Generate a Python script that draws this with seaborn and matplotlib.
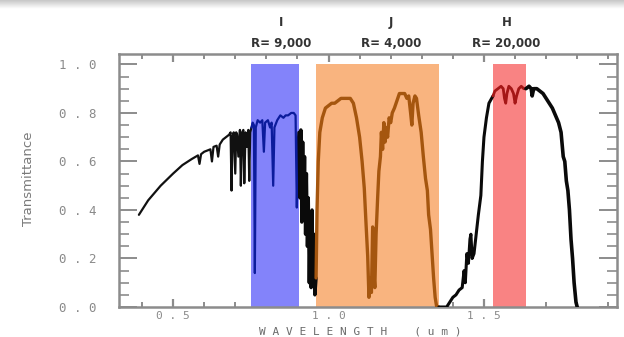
import numpy as np
import pandas as pd
import matplotlib
matplotlib.use("Agg")
import matplotlib.pyplot as plt
from matplotlib.ticker import MultipleLocator, FixedLocator, FixedFormatter
import seaborn as sns

# ---------------- data ----------------
# black: visible continuum before the I band
wl_vis = [0.39, 0.42, 0.46, 0.50, 0.53, 0.56, 0.58, 0.585, 0.59, 0.60, 0.62, 0.625, 0.63,
          0.64, 0.645, 0.65, 0.66, 0.67, 0.68, 0.685, 0.688, 0.691, 0.695, 0.70, 0.703,
          0.706, 0.71, 0.715, 0.718, 0.722, 0.726, 0.729, 0.733, 0.737, 0.742, 0.745, 0.748, 0.752]
tr_vis = [0.38, 0.44, 0.50, 0.55, 0.585, 0.61, 0.625, 0.59, 0.63, 0.64, 0.65, 0.60, 0.66,
          0.665, 0.62, 0.67, 0.69, 0.70, 0.71, 0.72, 0.48, 0.70, 0.72, 0.55, 0.72,
          0.71, 0.62, 0.73, 0.50, 0.72, 0.73, 0.51, 0.72, 0.66, 0.73, 0.52, 0.72, 0.74]

# I band (blue)
wl_I = [0.752, 0.756, 0.760, 0.763, 0.766, 0.772, 0.780, 0.787, 0.792, 0.796, 0.805, 0.812,
        0.817, 0.822, 0.826, 0.835, 0.845, 0.855, 0.862, 0.870, 0.880, 0.888, 0.894, 0.898,
        0.902, 0.905]
tr_I = [0.74, 0.76, 0.75, 0.14, 0.74, 0.77, 0.76, 0.77, 0.64, 0.76, 0.77, 0.74,
        0.76, 0.50, 0.74, 0.77, 0.79, 0.78, 0.79, 0.79, 0.80, 0.80, 0.79, 0.41,
        0.70, 0.72]

# black: gap between I and J
wl_gap1 = [0.905, 0.908, 0.911, 0.914, 0.917, 0.920, 0.923, 0.926, 0.929, 0.932, 0.935,
           0.938, 0.941, 0.944, 0.947, 0.950, 0.953, 0.956, 0.960]
tr_gap1 = [0.72, 0.45, 0.73, 0.35, 0.68, 0.40, 0.62, 0.30, 0.55, 0.25, 0.45,
           0.10, 0.35, 0.08, 0.40, 0.15, 0.30, 0.05, 0.12]

# J band (brown)
wl_J = [0.960, 0.963, 0.967, 0.972, 0.980, 0.990, 1.000, 1.010, 1.020, 1.030, 1.040, 1.050,
        1.060, 1.070, 1.080, 1.090, 1.100, 1.108, 1.115, 1.120, 1.126, 1.130, 1.134, 1.138,
        1.142, 1.145, 1.149, 1.153, 1.158, 1.162, 1.167, 1.170, 1.174, 1.178, 1.182, 1.186,
        1.190, 1.195, 1.200, 1.205, 1.212, 1.220, 1.228, 1.236, 1.245, 1.252, 1.258, 1.264,
        1.268, 1.272, 1.278, 1.283, 1.290, 1.298, 1.305, 1.312, 1.318, 1.322, 1.328, 1.333,
        1.338, 1.343, 1.348, 1.355]
tr_J = [0.12, 0.40, 0.60, 0.72, 0.78, 0.82, 0.83, 0.84, 0.84, 0.85, 0.86, 0.86,
        0.86, 0.86, 0.84, 0.78, 0.70, 0.60, 0.49, 0.36, 0.21, 0.04, 0.12, 0.06,
        0.33, 0.15, 0.08, 0.30, 0.45, 0.56, 0.62, 0.72, 0.65, 0.76, 0.68, 0.74,
        0.70, 0.78, 0.76, 0.80, 0.82, 0.85, 0.88, 0.88, 0.88, 0.86, 0.87, 0.80,
        0.75, 0.84, 0.87, 0.86, 0.79, 0.72, 0.62, 0.53, 0.48, 0.38, 0.32, 0.22,
        0.12, 0.04, 0.00, 0.00]

# black: gap between J and H
wl_gap2 = [1.355, 1.380, 1.390, 1.400, 1.410, 1.420, 1.430, 1.436, 1.440, 1.445, 1.450,
           1.455, 1.458, 1.462, 1.468, 1.475, 1.482, 1.490, 1.495, 1.500, 1.508, 1.516, 1.529]
tr_gap2 = [0.00, 0.00, 0.02, 0.04, 0.05, 0.07, 0.08, 0.15, 0.10, 0.22, 0.18,
           0.28, 0.30, 0.20, 0.22, 0.30, 0.38, 0.46, 0.60, 0.70, 0.78, 0.84, 0.87]

# H band (red)
wl_H = [1.529, 1.535, 1.545, 1.555, 1.562, 1.566, 1.570, 1.574, 1.580, 1.588, 1.595,
        1.600, 1.605, 1.612, 1.620, 1.628, 1.635]
tr_H = [0.87, 0.89, 0.90, 0.91, 0.90, 0.86, 0.84, 0.88, 0.91, 0.90, 0.88,
        0.84, 0.87, 0.90, 0.91, 0.90, 0.90]

# black: after H
wl_ir = [1.635, 1.645, 1.652, 1.655, 1.660, 1.670, 1.680, 1.690, 1.700, 1.710, 1.720,
         1.730, 1.740, 1.748, 1.755, 1.760, 1.765, 1.770, 1.775, 1.780, 1.785, 1.790,
         1.796, 1.800]
tr_ir = [0.90, 0.91, 0.90, 0.87, 0.90, 0.90, 0.89, 0.88, 0.86, 0.84, 0.82,
         0.79, 0.76, 0.72, 0.62, 0.60, 0.52, 0.48, 0.40, 0.28, 0.20, 0.10,
         0.02, 0.00]

band_names = ["I", "J", "H"]
band_res = ["R= 9,000", "R= 4,000", "R= 20,000"]
band_lo = [0.751, 0.960, 1.529]
band_hi = [0.905, 1.355, 1.635]
band_label_x = [0.847, 1.200, 1.572]

x_ticks = [0.5, 1.0, 1.5]
x_ticklabels = ["0 . 5", "1 . 0", "1 . 5"]
y_ticks = [0.0, 0.2, 0.4, 0.6, 0.8, 1.0]
y_ticklabels = ["0 . 0", "0 . 2", "0 . 4", "0 . 6", "0 . 8", "1 . 0"]

# ---------------- figure ----------------
sns.set_style("ticks")
plt.rcParams["font.family"] = ["DejaVu Sans"]

fig = plt.figure(figsize=(6.24, 3.37), dpi=100)
ax = fig.add_axes([0.1907, 0.089, 0.9888 - 0.1907, 0.8398 - 0.089])

# screenshot-like gray strip at the very top
gax = fig.add_axes([0, 1 - 9 / 337, 1, 9 / 337])
gax.imshow(np.linspace(0.78, 1.0, 20).reshape(-1, 1), cmap="gray", vmin=0, vmax=1,
           aspect="auto", extent=[0, 1, 0, 1])
gax.axis("off")

band_colors = ["#8383fa", "#f9b47f", "#f98383"]
for lo, hi, c in zip(band_lo, band_hi, band_colors):
    ax.fill_between([lo, hi], 0, 1.0, color=c, lw=0, zorder=1)

segments = [
    (wl_vis, tr_vis, "#111111", 1.6),
    (wl_I, tr_I, "#0c1c9c", 1.6),
    (wl_gap1, tr_gap1, "#0a0a0a", 2.4),
    (wl_J, tr_J, "#a5560f", 2.4),
    (wl_gap2, tr_gap2, "#0a0a0a", 2.2),
    (wl_H, tr_H, "#a51616", 2.0),
    (wl_ir, tr_ir, "#0a0a0a", 2.6),
]
for wl, tr, c, lw in segments:
    df = pd.DataFrame({"wl": wl, "tr": tr})
    sns.lineplot(data=df, x="wl", y="tr", sort=False, color=c, lw=lw, ax=ax, zorder=3)

ax.set_xlim(0.326, 1.928)
ax.set_ylim(0, 1.043)
ax.set_xlabel("")
ax.set_ylabel("")

spine_c = "#8c8c8c"
for s in ax.spines.values():
    s.set_visible(True)
    s.set_color(spine_c)
    s.set_linewidth(1.8)

ax.xaxis.set_major_locator(FixedLocator(x_ticks))
ax.xaxis.set_major_formatter(FixedFormatter(x_ticklabels))
ax.xaxis.set_minor_locator(MultipleLocator(0.1))
ax.yaxis.set_major_locator(FixedLocator(y_ticks))
ax.yaxis.set_major_formatter(FixedFormatter(y_ticklabels))
ax.yaxis.set_minor_locator(MultipleLocator(0.05))
ax.tick_params(axis="x", which="major", direction="in", length=6, width=1.6,
               color=spine_c, labelcolor="#8a8a8a", labelsize=8, pad=3, top=True)
ax.tick_params(axis="x", which="minor", direction="in", length=3.5, width=1.4,
               color=spine_c, top=True)
ax.tick_params(axis="y", which="major", direction="in", length=13, width=1.4,
               color=spine_c, labelcolor="#8a8a8a", labelsize=9, pad=16, right=True)
ax.tick_params(axis="y", which="minor", direction="in", length=7, width=1.2,
               color=spine_c, right=True)
for lab in ax.get_xticklabels() + ax.get_yticklabels():
    lab.set_family("DejaVu Sans Mono")

fig.text(0.045, 0.47, "Transmittance", rotation=90,
         ha="center", va="center", fontsize=9.5, color="#7a7a7a", family="DejaVu Sans")
fig.text(0.578, 0.0, "W A V E L E N G T H    ( u m )", ha="center", va="bottom",
         fontsize=8, color="#6a6a6a", family="DejaVu Sans Mono")

trans = ax.get_xaxis_transform()
for name, res, xpos in zip(band_names, band_res, band_label_x):
    ax.text(xpos, 1.126, name, transform=trans, ha="center", va="center",
            fontsize=8.5, fontweight="bold", color="#333333", clip_on=False)
    ax.text(xpos, 1.04, res, transform=trans, ha="center", va="center",
            fontsize=8.5, fontweight="bold", color="#333333", clip_on=False)

fig.savefig("out.png", dpi=100, facecolor="white")
